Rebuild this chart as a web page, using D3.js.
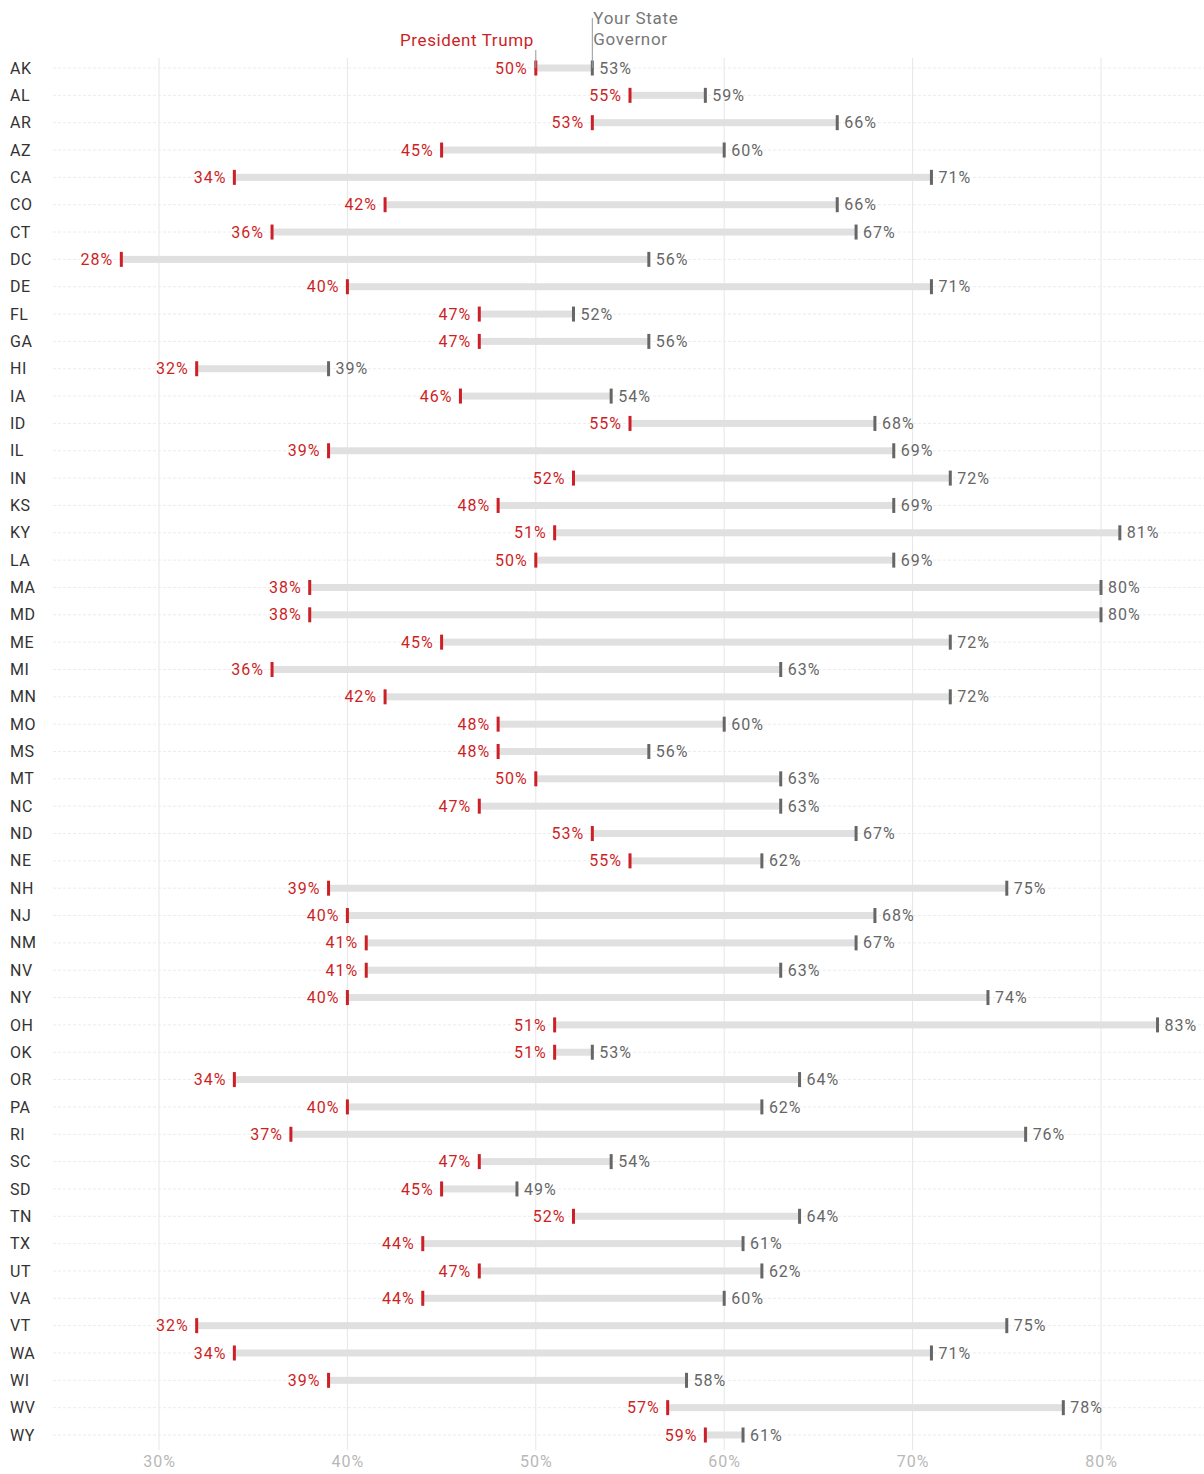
<!DOCTYPE html>
<html>
<head>
<meta charset="utf-8">
<script src="https://cdn.jsdelivr.net/npm/d3@7"></script>
<style>
  body { margin: 0; background: #fff; }
  svg { font-family: Roboto, "Noto Sans", sans-serif; display: block; }
  .state { fill: #333; font-size: 16px; letter-spacing: 0.5px; }
  .trump-lbl { fill: #cc1f26; font-size: 16px; letter-spacing: 1px; }
  .gov-lbl { fill: #666; font-size: 16px; letter-spacing: 1px; }
  .axis text { fill: #b8b8b8; font-size: 16px; letter-spacing: 1px; }
</style>
</head>
<body>
<svg id="svg" width="1204" height="1474"></svg>
<script>
const states = ['AK','AL','AR','AZ','CA','CO','CT','DC','DE','FL','GA','HI','IA','ID','IL','IN','KS','KY','LA','MA',
  'MD','ME','MI','MN','MO','MS','MT','NC','ND','NE','NH','NJ','NM','NV','NY','OH','OK','OR','PA','RI',
  'SC','SD','TN','TX','UT','VA','VT','WA','WI','WV','WY'];
const trump = [50,55,53,45,34,42,36,28,40,47,47,32,46,55,39,52,48,51,50,38,
  38,45,36,42,48,48,50,47,53,55,39,40,41,41,40,51,51,34,40,37,
  47,45,52,44,47,44,32,34,39,57,59];
const governor = [53,59,66,60,71,66,67,56,71,52,56,39,54,68,69,72,69,81,69,80,
  80,72,63,72,60,56,63,63,67,62,75,68,67,63,74,83,53,64,62,76,
  54,49,64,61,62,60,75,71,58,78,61];
const xTicks = [30, 40, 50, 60, 70, 80];

const red = '#cc1f26', grey = '#666';

const svg = d3.select('#svg');

const x = d3.scaleLinear().domain([30, 80]).range([159, 1101]);
const y = d3.scalePoint().domain(states).range([68, 1435]);

// vertical grid
svg.append('g').selectAll('line')
    .data(xTicks)
  .enter().append('line')
    .attr('x1', d => x(d)).attr('x2', d => x(d))
    .attr('y1', 58).attr('y2', 1450)
    .attr('stroke', '#e6e6e6').attr('stroke-width', 1);

// horizontal dotted rows
svg.append('g').selectAll('line')
    .data(states)
  .enter().append('line')
    .attr('x1', 53).attr('x2', 1204)
    .attr('y1', d => y(d)).attr('y2', d => y(d))
    .attr('stroke', '#ececec').attr('stroke-width', 1)
    .attr('stroke-dasharray', '3,2');

// x axis labels
const xAxis = d3.axisBottom(x)
    .tickValues(xTicks)
    .tickFormat(d => d + '%')
    .tickSize(0)
    .tickPadding(0);
svg.append('g')
    .attr('class', 'axis')
    .attr('transform', 'translate(0,1456)')
    .call(xAxis)
    .call(g => g.select('.domain').remove())
    .call(g => g.selectAll('text').attr('dy', '0.71em').style('font-family', 'Roboto, sans-serif'));

// state labels
svg.append('g').selectAll('text')
    .data(states)
  .enter().append('text')
    .attr('class', 'state')
    .attr('x', 10)
    .attr('y', d => y(d))
    .attr('dy', '0.35em')
    .text(d => d);

const rows = svg.append('g').selectAll('g')
    .data(states.map((s, i) => ({state: s, t: trump[i], g: governor[i]})))
  .enter().append('g')
    .attr('transform', d => 'translate(0,' + y(d.state) + ')');

rows.append('rect')
    .attr('x', d => x(d.t))
    .attr('width', d => x(d.g) - x(d.t))
    .attr('y', -3.5).attr('height', 7)
    .attr('fill', '#e0e0e0');

rows.append('rect')
    .attr('x', d => x(d.t) - 1.5)
    .attr('width', 3)
    .attr('y', -7.5).attr('height', 15)
    .attr('fill', red);

rows.append('rect')
    .attr('x', d => x(d.g) - 1.5)
    .attr('width', 3)
    .attr('y', -7.5).attr('height', 15)
    .attr('fill', grey);

rows.append('text')
    .attr('class', 'trump-lbl')
    .attr('x', d => x(d.t) - 8)
    .attr('dy', '0.35em')
    .attr('text-anchor', 'end')
    .text(d => d.t + '%');

rows.append('text')
    .attr('class', 'gov-lbl')
    .attr('x', d => x(d.g) + 7)
    .attr('dy', '0.35em')
    .text(d => d.g + '%');

// header annotations
const first = {t: trump[0], g: governor[0]};
svg.append('line')
    .attr('x1', x(first.t)).attr('x2', x(first.t))
    .attr('y1', 50).attr('y2', y(states[0]))
    .attr('stroke', '#999').attr('stroke-width', 1);
svg.append('line')
    .attr('x1', x(first.g)).attr('x2', x(first.g))
    .attr('y1', 18).attr('y2', y(states[0]))
    .attr('stroke', '#999').attr('stroke-width', 1);

svg.append('text')
    .attr('x', x(first.t) - 2).attr('y', 46)
    .attr('text-anchor', 'end')
    .attr('fill', red).style('font-size', '17px').style('letter-spacing', '0.6px')
    .text('President Trump');

const gov = svg.append('text')
    .attr('x', x(first.g) + 1).attr('y', 24)
    .attr('fill', '#777').style('font-size', '17px').style('letter-spacing', '0.7px');
gov.append('tspan').text('Your State');
gov.append('tspan').attr('x', x(first.g) + 1).attr('dy', 21).text('Governor');
</script>
</body>
</html>
